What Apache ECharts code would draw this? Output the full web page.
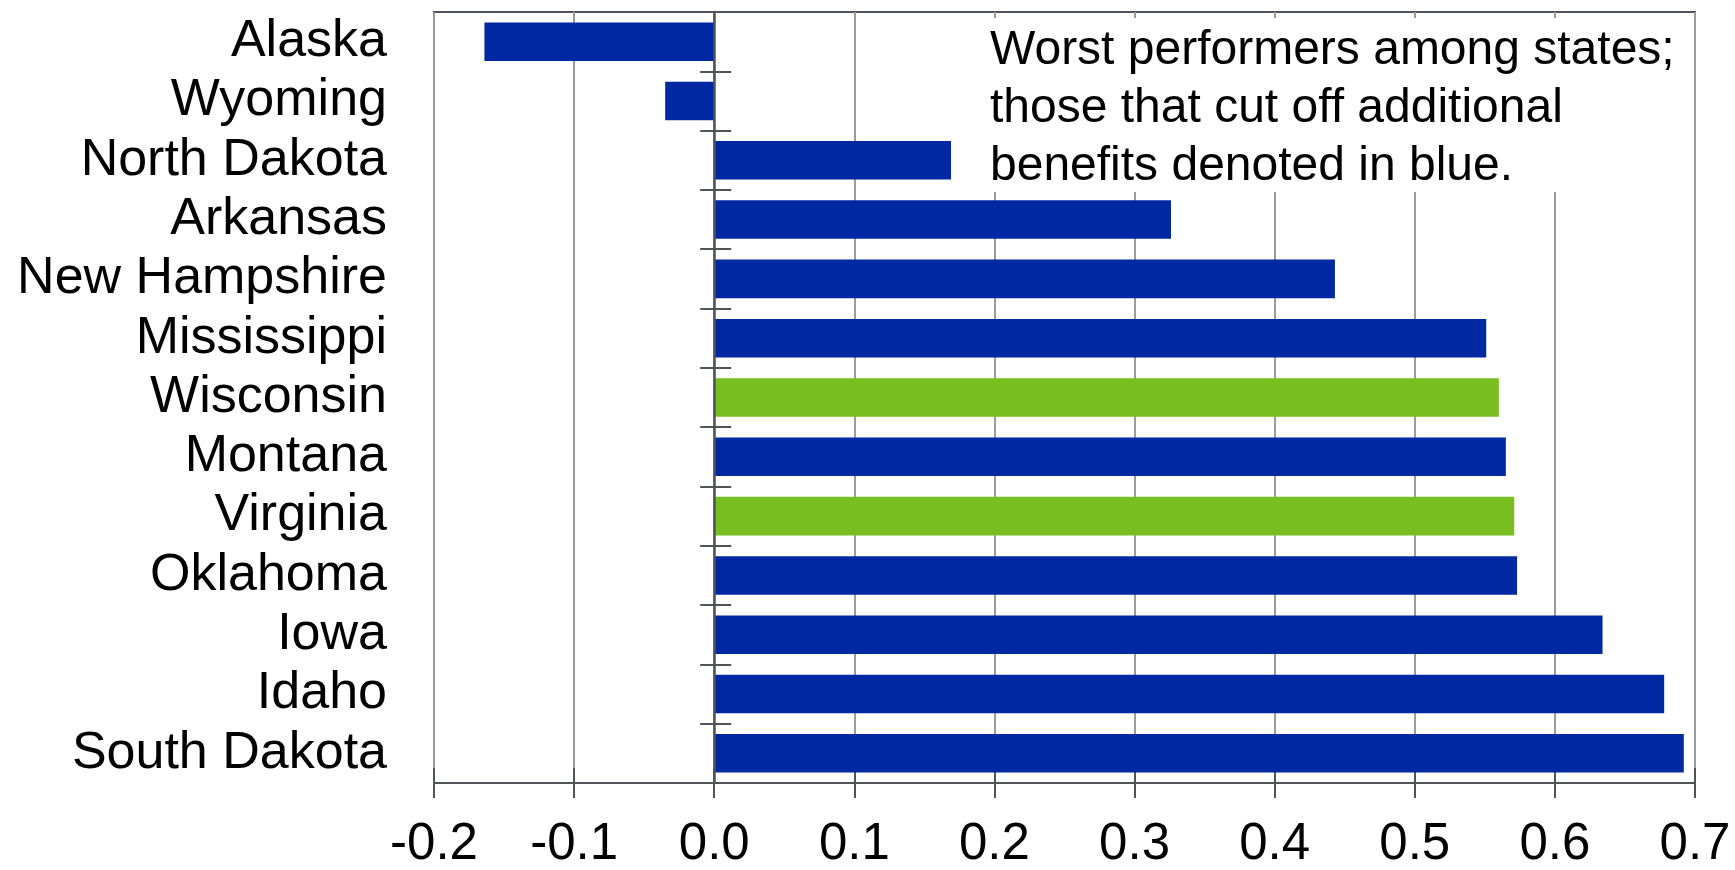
<!DOCTYPE html>
<html>
<head>
<meta charset="utf-8">
<script src="https://cdn.jsdelivr.net/npm/echarts@6/dist/echarts.min.js"></script>
<style>
html,body{margin:0;padding:0;background:#fff;}
#chart{width:1735px;height:870px;}
</style>
</head>
<body>
<div id="chart"></div>
<script>
const categories = ['Alaska','Wyoming','North Dakota','Arkansas','New Hampshire','Mississippi','Wisconsin','Montana','Virginia','Oklahoma','Iowa','Idaho','South Dakota'];
const values = [-0.164, -0.035, 0.169, 0.326, 0.443, 0.551, 0.560, 0.565, 0.571, 0.573, 0.634, 0.678, 0.692];
const cutOffBenefits = [true, true, true, true, true, true, false, true, false, true, true, true, true];
const xTicks = { min: -0.2, max: 0.7, interval: 0.1 };
const noteLines = ['Worst performers among states;', 'those that cut off additional', 'benefits denoted in blue.'];

const BLUE = '#0028a3';
const GREEN = '#79be21';
const FONT = "'Liberation Sans', Arial, sans-serif";
const AXIS = '#505458';

const chart = echarts.init(document.getElementById('chart'), null, { renderer: 'canvas' });

const barData = values.map((v, i) => ({
  value: v,
  itemStyle: { color: cutOffBenefits[i] ? BLUE : GREEN }
}));

const noteGraphics = [{
  type: 'rect',
  z: 5,
  shape: { x: 984, y: 18, width: 709, height: 174 },
  style: { fill: '#ffffff' }
}].concat(noteLines.map((t, i) => ({
  type: 'text',
  z: 6,
  x: 990,
  y: 51 + i * 58,
  style: { text: t, font: '48px ' + FONT, fill: '#000', textVerticalAlign: 'middle' }
})));

chart.setOption({
  animation: false,
  grid: {
    left: 434, right: 40, top: 12, bottom: 85,
    show: true, borderColor: AXIS, borderWidth: 2, backgroundColor: 'transparent'
  },
  xAxis: [{
    type: 'value',
    position: 'bottom',
    min: xTicks.min, max: xTicks.max, interval: xTicks.interval,
    axisLine: { show: true, onZero: false, lineStyle: { color: AXIS, width: 2 } },
    axisTick: { show: true, length: 15, lineStyle: { color: AXIS, width: 2 } },
    axisLabel: {
      margin: 36, fontSize: 51, color: '#000', fontFamily: FONT,
      formatter: v => v.toFixed(1)
    },
    splitLine: { show: true, lineStyle: { color: '#9a9ca0', width: 2 } }
  }, {
    type: 'value',
    position: 'bottom',
    min: xTicks.min, max: xTicks.max, interval: xTicks.interval,
    axisLine: { show: false, onZero: false },
    axisTick: { show: true, inside: true, length: 15, lineStyle: { color: AXIS, width: 2 } },
    axisLabel: { show: false },
    splitLine: { show: false }
  }],
  yAxis: [{
    type: 'category',
    data: categories,
    inverse: true,
    position: 'left',
    axisLine: { show: false, onZero: false },
    axisTick: { show: false },
    axisLabel: { interval: 0, margin: 47, fontSize: 52, color: '#000', fontFamily: FONT },
    splitLine: { show: false }
  }, {
    type: 'category',
    data: categories,
    inverse: true,
    position: 'left',
    z: 10,
    axisLine: { show: true, onZero: true, lineStyle: { color: AXIS, width: 2.5 } },
    axisTick: { show: true, interval: 0, length: 14, lineStyle: { color: AXIS, width: 2 } },
    axisLabel: { show: false },
    splitLine: { show: false }
  }, {
    type: 'category',
    data: categories,
    inverse: true,
    position: 'left',
    z: 10,
    axisLine: { show: false, onZero: true },
    axisTick: { show: true, interval: 0, inside: true, length: 17, lineStyle: { color: AXIS, width: 2 } },
    axisLabel: { show: false },
    splitLine: { show: false }
  }],
  graphic: noteGraphics,
  series: [{
    type: 'bar',
    xAxisIndex: 0,
    yAxisIndex: 0,
    data: barData,
    barWidth: '65%',
    z: 3
  }]
});
</script>
</body>
</html>
